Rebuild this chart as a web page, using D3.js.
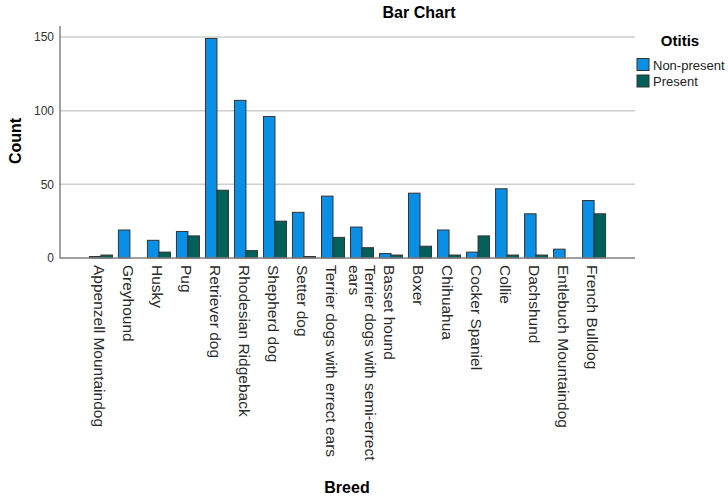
<!DOCTYPE html>
<html>
<head>
	<meta charset="UTF-8">
	<title>Bar Chart</title>
	<script src="https://d3js.org/d3.v7.min.js"></script>
	<style>
		body { margin:0; background:#fff; }
		text { font-family: Arial, "Liberation Sans", sans-serif; }
	</style>
</head>
<body>
<div id="chart"></div>
<script>
	// breeds in the order SPSS drew them
	var breeds = ["Appenzell Mountaindog","Greyhound","Husky","Pug","Retriever dog","Rhodesian Ridgeback",
		"Shepherd dog","Setter dog","Terrier dogs with errect ears","Terrier dogs with semi-errect|ears",
		"Basset hound","Boxer","Chihuahua","Cocker Spaniel","Collie","Dachshund","Entlebuch Mountaindog","French Bulldog"]
	var nonPresent = [1,19,12,18,149,107,96,31,42,21,3,44,19,4,47,30,6,39]
	var present    = [2,0,4,15,46,5,25,1,14,7,2,8,2,15,2,2,0,30]
	var groups = ["Non-present","Present"]
	var colors = ["#0a8fe6","#02605a"]
	var yTicks = [0,50,100,150]

	var W=728, H=500
	var svg=d3.select("#chart").append("svg").attr("width",W).attr("height",H)

	var x=d3.scalePoint().domain(breeds).range([60,635]).padding(1.41)
	var y=d3.scaleLinear().domain([0,150]).range([258,37])
	var bw=11.5

	// gridlines
	svg.append("g").selectAll("line").data(yTicks.slice(1)).enter().append("line")
		.attr("x1",60).attr("x2",635).attr("y1",d=>y(d)).attr("y2",d=>y(d))
		.attr("stroke","#cfcfcf").attr("stroke-width",1.5)

	// y axis
	var yAxis=svg.append("g").attr("transform","translate(60,0)")
		.call(d3.axisLeft(y).tickValues(yTicks).tickSize(0).tickPadding(6))
	yAxis.select(".domain").remove()
	yAxis.selectAll("text").attr("font-size","12px").attr("fill","#333")
	svg.append("line").attr("x1",60).attr("x2",60).attr("y1",26).attr("y2",258.5)
		.attr("stroke","#444").attr("stroke-width",1)

	// bars
	var rows=breeds.map((b,i)=>({b:b,v:[nonPresent[i],present[i]]}))
	var g=svg.append("g").selectAll("g").data(rows).enter().append("g")
	g.selectAll("rect").data(d=>d.v.map((v,k)=>({b:d.b,v:v,k:k}))).enter().append("rect")
		.attr("x",d=>x(d.b)-bw+d.k*bw).attr("width",bw)
		.attr("y",d=>y(d.v)).attr("height",d=>y(0)-y(d.v))
		.attr("fill",d=>colors[d.k]).attr("stroke","#333").attr("stroke-width",1)

	// baseline
	svg.append("line").attr("x1",60).attr("x2",635).attr("y1",y(0)).attr("y2",y(0))
		.attr("stroke","#808080").attr("stroke-width",1.5)

	// x labels, rotated
	var lab=svg.append("g").selectAll("text").data(breeds).enter().append("text")
		.attr("transform",d=>"translate("+(x(d)-7)+",265) rotate(90)")
		.attr("font-size","15.5px").attr("fill","#2a2a2a")
	lab.each(function(d){
		var parts=d.split("|"), t=d3.select(this)
		parts.forEach((p,i)=>{
			t.append("tspan").attr("x",0).attr("dy",i==0?(parts.length>1?-10:0):16).text(p)
		})
	})

	// titles
	svg.append("text").attr("x",419).attr("y",18).attr("text-anchor","middle")
		.attr("font-size","16px").attr("font-weight","bold").text("Bar Chart")
	svg.append("text").attr("transform","translate(21,141) rotate(-90)").attr("text-anchor","middle")
		.attr("font-size","16px").attr("font-weight","bold").text("Count")
	svg.append("text").attr("x",347).attr("y",493).attr("text-anchor","middle")
		.attr("font-size","16px").attr("font-weight","bold").text("Breed")

	// legend
	svg.append("text").attr("x",680).attr("y",46).attr("text-anchor","middle")
		.attr("font-size","15px").attr("font-weight","bold").text("Otitis")
	var lg=svg.append("g").selectAll("g").data(groups).enter().append("g")
		.attr("transform",(d,i)=>"translate(637,"+(58.5+i*16.5)+")")
	lg.append("rect").attr("width",12).attr("height",12)
		.attr("fill",(d,i)=>colors[i]).attr("stroke","#333")
	lg.append("text").attr("x",16).attr("y",11).attr("font-size","13px").attr("fill","#222").text(d=>d)
</script>
</body>
</html>
